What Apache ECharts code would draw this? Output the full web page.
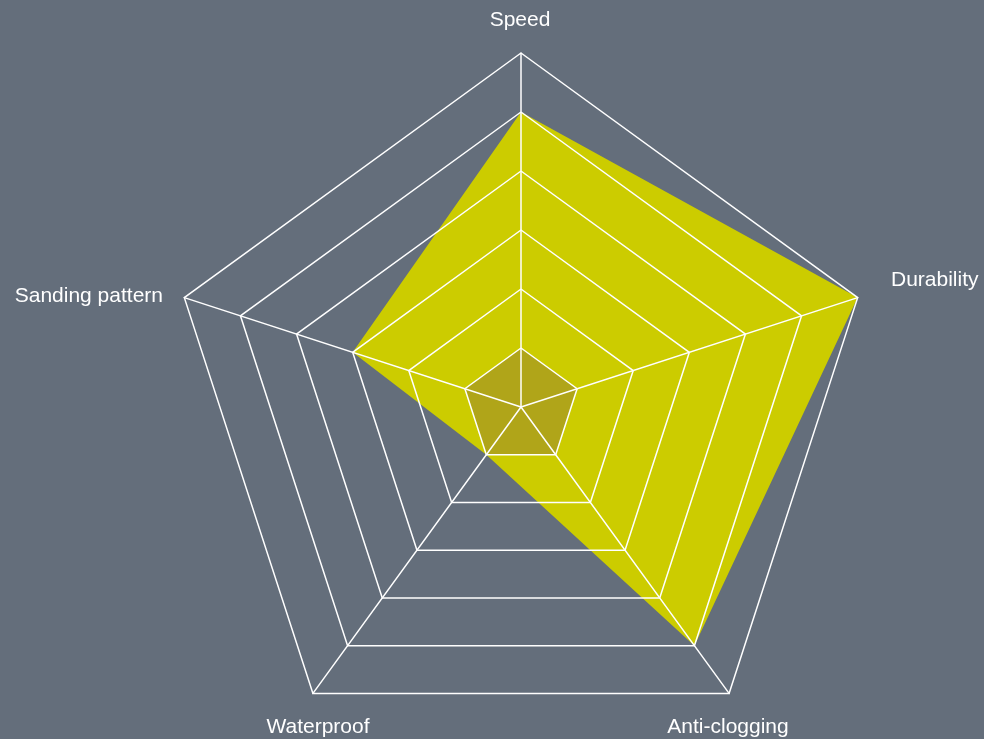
<!DOCTYPE html>
<html>
<head>
<meta charset="utf-8">
<script src="https://cdn.jsdelivr.net/npm/echarts@6/dist/echarts.min.js"></script>
<style>
  html, body { margin: 0; padding: 0; background: #646e7b; }
  #chart { width: 984px; height: 739px; }
</style>
</head>
<body>
<div id="chart"></div>
<script>
// ---- data (ECharts radar places indicators counter-clockwise from the top) ----
const indicatorNames = ['Speed', 'Sanding pattern', 'Waterproof', 'Anti-clogging', 'Durability'];
const indicatorMax = [6, 6, 6, 6, 6];
const seriesValues = [5, 3, 1, 5, 6];

// ---- layout (label placement, not data) ----
const labelLayout = [
  { x: 520, y: 20, align: 'center' },
  { x: 163, y: 296, align: 'right' },
  { x: 318, y: 727, align: 'center' },
  { x: 728, y: 727, align: 'center' },
  { x: 891, y: 280, align: 'left' }
];

const chart = echarts.init(document.getElementById('chart'), null, { renderer: 'canvas' });

const option = {
  backgroundColor: '#646e7b',
  animation: false,
  radar: {
    z: 3,
    center: [521, 407],
    radius: 354,
    startAngle: 90,
    shape: 'polygon',
    splitNumber: 6,
    indicator: indicatorNames.map((n, i) => ({ name: n, max: indicatorMax[i], min: 0 })),
    axisName: { show: false },
    axisLine: { lineStyle: { color: '#ffffff', width: 1.5 } },
    splitLine: { lineStyle: { color: '#ffffff', width: 1.5 } },
    splitArea: {
      show: true,
      areaStyle: {
        color: ['#b0a519', 'rgba(0,0,0,0)', 'rgba(0,0,0,0)', 'rgba(0,0,0,0)', 'rgba(0,0,0,0)', 'rgba(0,0,0,0)']
      }
    }
  },
  series: [{
    type: 'radar',
    z: 2,
    symbol: 'none',
    lineStyle: { width: 0, color: '#cccc00' },
    areaStyle: { color: '#cccc00', opacity: 1 },
    data: [{ value: seriesValues, name: 'Sandpaper' }]
  }],
  graphic: indicatorNames.map((n, i) => ({
    type: 'text',
    z: 10,
    silent: true,
    style: {
      text: n,
      x: labelLayout[i].x,
      y: labelLayout[i].y,
      fill: '#ffffff',
      font: '21px "Liberation Sans", Arial, sans-serif',
      align: labelLayout[i].align,
      textAlign: labelLayout[i].align,
      verticalAlign: 'middle',
      textVerticalAlign: 'middle'
    }
  }))
};

chart.setOption(option);
</script>
</body>
</html>
